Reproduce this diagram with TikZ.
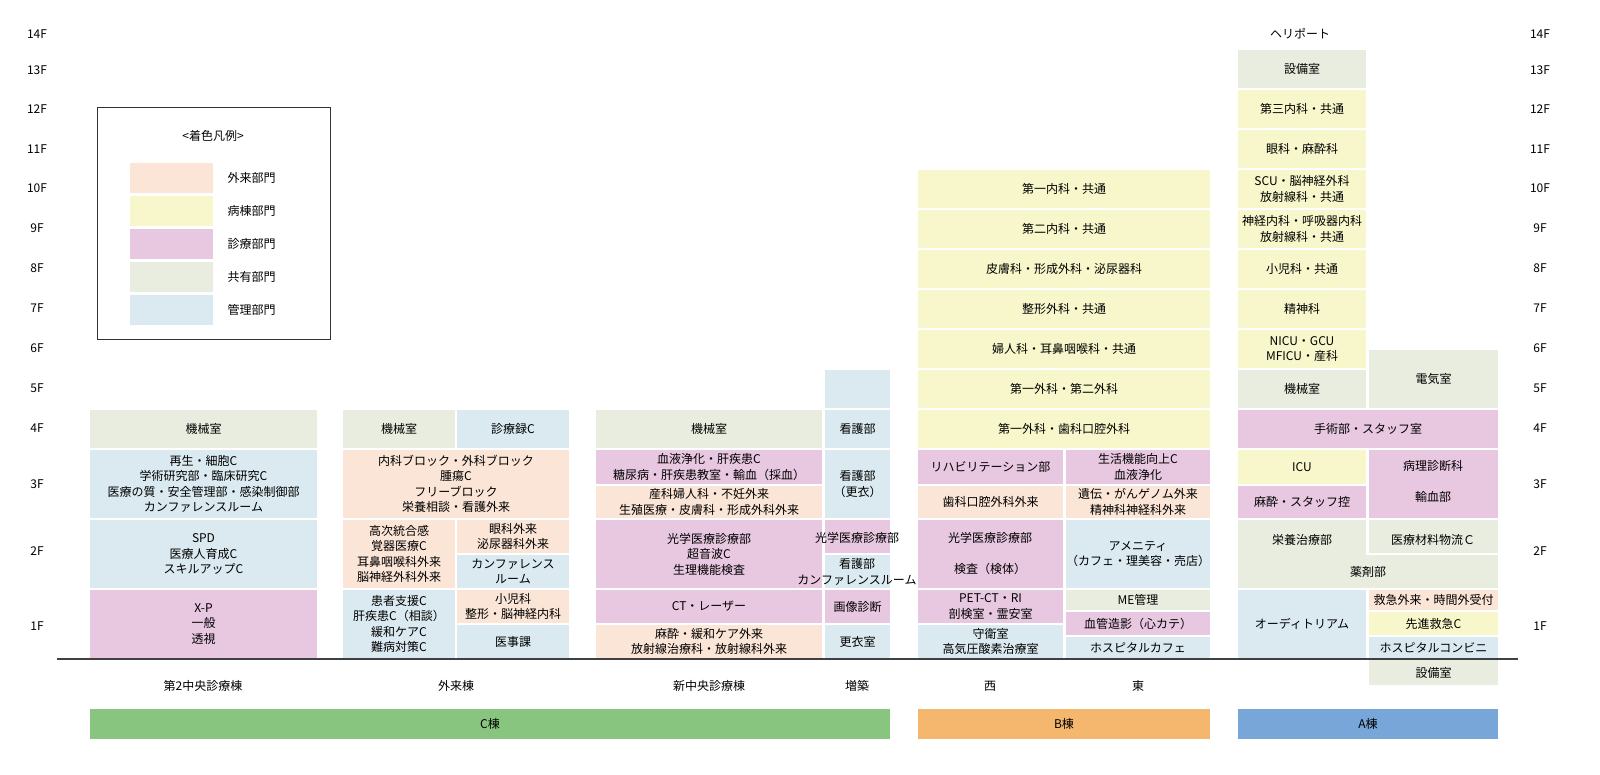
\documentclass[tikz,border=0pt]{standalone}
\usepackage{fontspec}
\setmainfont{Noto Sans CJK JP}
\definecolor{gai}{HTML}{FBE5D6}
\definecolor{byo}{HTML}{F8F7CB}
\definecolor{shin}{HTML}{E8C7E1}
\definecolor{kyo}{HTML}{E9EDDF}
\definecolor{kan}{HTML}{DAEAF0}
\definecolor{cg}{HTML}{88C57F}
\definecolor{bo}{HTML}{F5B66E}
\definecolor{ab}{HTML}{79A6D8}
\newcommand\bx[6]{\fill[#1] (#2,#3) rectangle (#4,#5); \node[txt] at ({(#2+#4)/2},{(#3+#5)/2}) {#6};}
\begin{document}
\begin{tikzpicture}[x=1pt,y=-1pt,txt/.style={align=center,font=\fontsize{12}{15.5}\selectfont,inner sep=0pt},lab/.style={font=\fontsize{12}{14}\selectfont}]
\useasboundingbox (0,0) rectangle (1600,774);
% floor labels
\foreach \f/\y in {14/34,13/70,12/109,11/149,10/188,9/228,8/268,7/308,6/348,5/388,4/428,3/484,2/551,1/626}{
 \node[lab] at (37,\y) {\f F}; \node[lab] at (1540,\y) {\f F};}
% legend
\draw[black!80] (97,107) rectangle (330,339);
\node[lab] at (213,136) {<着色凡例>};
\foreach \c/\t [count=\i] in {gai/外来部門,byo/病棟部門,shin/診療部門,kyo/共有部門,kan/管理部門}{
 \fill[\c] (130,130+33*\i) rectangle (213,160+33*\i);
 \node[lab,anchor=west] at (224,145+33*\i) {\t};}
% column 1
\bx{kyo}{90}{410}{317}{448}{機械室}
\bx{kan}{90}{450}{317}{518}{再生・細胞C\\学術研究部・臨床研究C\\医療の質・安全管理部・感染制御部\\カンファレンスルーム}
\bx{kan}{90}{520}{317}{588}{SPD\\医療人育成C\\スキルアップC}
\bx{shin}{90}{590}{317}{658}{X-P\\一般\\透視}
% column 2
\bx{kyo}{343}{410}{455}{448}{機械室}
\bx{kan}{457}{410}{569}{448}{診療録C}
\bx{gai}{343}{450}{569}{518}{内科ブロック・外科ブロック\\腫瘍C\\フリーブロック\\栄養相談・看護外来}
\bx{gai}{343}{520}{455}{588}{高次統合感\\覚器医療C\\耳鼻咽喉科外来\\脳神経外科外来}
\bx{gai}{457}{520}{569}{553}{眼科外来\\泌尿器科外来}
\bx{kan}{457}{555}{569}{588}{カンファレンス\\ルーム}
\bx{kan}{343}{590}{455}{658}{患者支援C\\肝疾患C（相談）\\緩和ケアC\\難病対策C}
\bx{gai}{457}{590}{569}{623}{小児科\\整形・脳神経内科}
\bx{kan}{457}{625}{569}{658}{医事課}
% column 3
\bx{kyo}{596}{410}{822}{448}{機械室}
\bx{shin}{596}{450}{822}{484}{血液浄化・肝疾患C\\糖尿病・肝疾患教室・輸血（採血）}
\bx{gai}{596}{486}{822}{518}{産科婦人科・不妊外来\\生殖医療・皮膚科・形成外科外来}
\bx{shin}{596}{520}{822}{588}{光学医療診療部\\超音波C\\生理機能検査}
\bx{shin}{596}{590}{822}{623}{CT・レーザー}
\bx{gai}{596}{625}{822}{658}{麻酔・緩和ケア外来\\放射線治療科・放射線科外来}
% zouchiku
\fill[kan] (825,370) rectangle (890,408);
\bx{kan}{825}{410}{890}{448}{看護部}
\bx{kan}{825}{450}{890}{518}{看護部\\（更衣）}
\fill[shin] (825,520) rectangle (890,553);
\fill[kan] (825,555) rectangle (890,588);
\node[txt] at (857,538) {光学医療診療部};
\node[txt] at (857,572) {看護部\\カンファレンスルーム};
\bx{shin}{825}{590}{890}{623}{画像診断}
\bx{kan}{825}{625}{890}{658}{更衣室}
% B
\bx{byo}{918}{170}{1210}{208}{第一内科・共通}
\bx{byo}{918}{210}{1210}{248}{第二内科・共通}
\bx{byo}{918}{250}{1210}{288}{皮膚科・形成外科・泌尿器科}
\bx{byo}{918}{290}{1210}{328}{整形外科・共通}
\bx{byo}{918}{330}{1210}{368}{婦人科・耳鼻咽喉科・共通}
\bx{byo}{918}{370}{1210}{408}{第一外科・第二外科}
\bx{byo}{918}{410}{1210}{448}{第一外科・歯科口腔外科}
\bx{shin}{918}{450}{1063}{484}{リハビリテーション部}
\bx{gai}{918}{486}{1063}{518}{歯科口腔外科外来}
\bx{shin}{1066}{450}{1210}{484}{生活機能向上C\\血液浄化}
\bx{gai}{1066}{486}{1210}{518}{遺伝・がんゲノム外来\\精神科神経科外来}
\fill[shin] (918,520) rectangle (1063,588);
\node[txt] at (990,538) {光学医療診療部}; \node[txt] at (990,569) {検査（検体）};
\bx{kan}{1066}{520}{1210}{588}{アメニティ\\（カフェ・理美容・売店）}
\bx{shin}{918}{590}{1063}{623}{PET-CT・RI\\剖検室・霊安室}
\bx{kan}{918}{625}{1063}{658}{守衛室\\高気圧酸素治療室}
\bx{kyo}{1066}{590}{1210}{610}{ME管理}
\bx{shin}{1066}{612}{1210}{635}{血管造影（心カテ）}
\bx{kan}{1066}{637}{1210}{658}{ホスピタルカフェ}
% A
\node[lab] at (1300,34) {ヘリポート};
\bx{kyo}{1238}{50}{1366}{88}{設備室}
\bx{byo}{1238}{90}{1366}{128}{第三内科・共通}
\bx{byo}{1238}{130}{1366}{168}{眼科・麻酔科}
\bx{byo}{1238}{170}{1366}{208}{SCU・脳神経外科\\放射線科・共通}
\bx{byo}{1238}{210}{1366}{248}{神経内科・呼吸器内科\\放射線科・共通}
\bx{byo}{1238}{250}{1366}{288}{小児科・共通}
\bx{byo}{1238}{290}{1366}{328}{精神科}
\bx{byo}{1238}{330}{1366}{368}{NICU・GCU\\MFICU・産科}
\bx{kyo}{1238}{370}{1366}{408}{機械室}
\bx{kyo}{1369}{350}{1498}{408}{電気室}
\bx{shin}{1238}{410}{1498}{448}{手術部・スタッフ室}
\bx{byo}{1238}{450}{1366}{484}{ICU}
\bx{shin}{1238}{486}{1366}{518}{麻酔・スタッフ控}
\fill[shin] (1369,450) rectangle (1498,518);
\node[txt] at (1433,466) {病理診断科}; \node[txt] at (1433,497) {輸血部};
\fill[kyo] (1238,520) rectangle (1366,556);
\fill[kyo] (1369,520) rectangle (1498,553);
\fill[kyo] (1238,555) rectangle (1498,588);
\node[txt] at (1302,540) {栄養治療部};
\node[txt] at (1433,540) {医療材料物流Ｃ};
\node[txt] at (1368,572) {薬剤部};
\bx{kan}{1238}{590}{1366}{658}{オーディトリアム}
\bx{gai}{1369}{590}{1498}{610}{救急外来・時間外受付}
\bx{byo}{1369}{612}{1498}{635}{先進救急C}
\bx{kan}{1369}{637}{1498}{658}{ホスピタルコンビニ}
\bx{kyo}{1369}{660}{1498}{685}{設備室}
% ground
\draw[line width=1.2pt,black!75] (57,659) -- (1518,659);
\foreach \x/\t in {203/第2中央診療棟,456/外来棟,709/新中央診療棟,857/増築,990/西,1138/東}{\node[lab] at (\x,686) {\t};}
\bx{cg}{90}{709}{890}{739}{C棟}
\bx{bo}{918}{709}{1210}{739}{B棟}
\bx{ab}{1238}{709}{1498}{739}{A棟}
\end{tikzpicture}
\end{document}
